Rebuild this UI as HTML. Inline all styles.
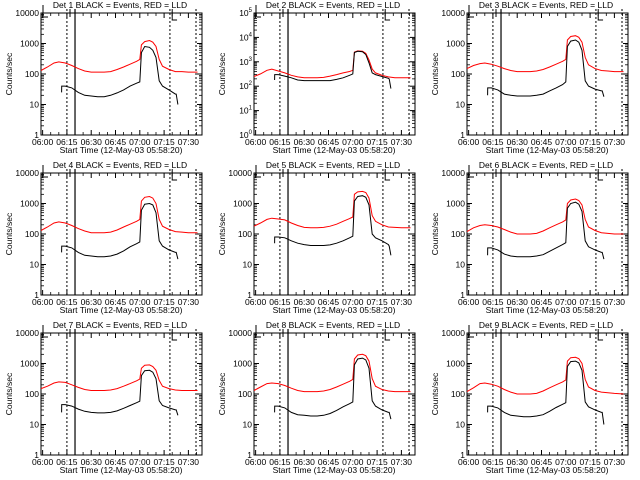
<!DOCTYPE html>
<html><head><meta charset="utf-8"><style>
html,body{margin:0;padding:0;background:#fff}
svg{display:block}
text{font-family:"Liberation Sans",sans-serif;font-size:8.5px;fill:#000}
</style></head><body>
<svg id="chart" width="640" height="480" viewBox="0 0 640 480" xmlns="http://www.w3.org/2000/svg"></svg>
<script>
const redTimes=[-1,3,7,10,14,18,22,26,30,34,38,42,46,50,54,58,60,61,63,66,68,70,72,74,78,82,86,90,95.6];
const blackTimes=[11.7,11.8,14,18,22,26,30,34,38,42,46,50,54,58,60,61,63,66,68,70,72,74,78,82,82.5,83.5];
const xTickLabels=["06:00","06:15","06:30","06:45","07:00","07:15","07:30"];
const xTickMinutes=[0,15,30,45,60,75,90];
const detNames=["Det 1","Det 2","Det 3","Det 4","Det 5","Det 6","Det 7","Det 8","Det 9"];
const red1=[130,170,230,250,230,190,150,125,115,115,115,120,140,170,210,260,300,900,1150,1250,1100,800,300,180,140,120,120,115,115];
const black1=[25,40,40,35,25,20,19,18,18,20,24,30,40,50,55,500,800,750,600,350,60,40,30,22,22,10];
const red2=[250,320,450,500,420,350,280,240,220,220,220,230,260,300,350,400,450,2500,2800,2700,2200,1200,500,350,280,240,220,220,220];
const black2=[180,300,300,260,220,180,170,170,170,170,170,190,220,280,320,2400,2700,2600,2000,900,350,300,250,210,200,80];
const red3=[150,190,220,230,210,180,150,130,120,120,120,125,140,170,210,260,300,1300,1700,1800,1600,1100,350,200,150,130,125,120,120];
const black3=[20,35,35,30,22,20,19,19,19,20,22,28,35,45,55,800,1200,1300,1100,600,60,40,32,28,28,18];
const red4=[130,170,230,250,230,190,150,125,110,110,110,115,135,170,210,260,300,1200,1600,1700,1500,1000,300,180,140,120,115,110,110];
const black4=[25,40,40,35,25,20,19,18,18,19,22,28,38,48,55,600,950,1000,900,500,60,40,30,25,25,15];
const red5=[180,230,300,330,310,290,230,190,165,160,160,165,180,210,260,320,360,2000,2400,2500,2300,1500,400,260,200,170,165,160,160];
const black5=[50,80,80,75,60,50,45,42,42,42,44,50,60,75,85,1200,1700,1800,1600,900,100,75,60,45,40,20];
const red6=[120,160,190,200,190,170,140,115,100,100,100,105,125,160,200,250,290,1000,1300,1400,1250,900,300,170,130,110,105,100,100];
const black6=[20,35,35,30,22,19,18,18,18,19,21,27,35,45,52,700,1000,1100,950,550,60,38,30,25,25,15];
const red7=[150,180,230,250,240,200,165,140,130,130,130,135,150,180,220,270,310,700,880,900,800,600,280,180,150,135,130,130,130];
const black7=[25,45,45,40,32,27,25,24,24,25,28,34,42,52,58,400,580,600,520,320,60,42,35,30,30,20];
const red8=[130,170,220,230,220,190,155,130,120,120,120,125,140,170,210,260,300,1400,1900,2000,1800,1200,320,180,140,125,120,120,120];
const black8=[25,40,40,35,25,21,20,19,19,20,23,29,38,48,55,900,1400,1500,1300,700,60,40,30,25,25,15];
const red9=[120,160,220,230,210,180,140,115,100,100,100,105,125,160,200,250,290,1200,1550,1600,1450,1000,300,170,130,115,110,105,100];
const black9=[25,40,40,35,25,20,19,18,18,19,21,27,36,46,52,800,1150,1200,1050,600,55,38,30,25,25,10];
const redSeries=[red1,red2,red3,red4,red5,red6,red7,red8,red9];
const blackSeries=[black1,black2,black3,black4,black5,black6,black7,black8,black9];

const NS="http://www.w3.org/2000/svg";
const svg=document.getElementById('chart');
function mk(tag,attrs,parent){const e=document.createElementNS(NS,tag);for(const k in attrs)e.setAttribute(k,attrs[k]);(parent||svg).appendChild(e);return e;}
const TMIN=-1,TMAX=98.4;
for(let p=0;p<9;p++){
  const ox=(p%3)*213, oy=Math.floor(p/3)*160;
  const L=ox+41,R=ox+202,T=oy+13,B=oy+135;
  const sup = (p===1);
  const lmin=0,lmax=sup?5:4;
  const g=mk('g',{});
  
  
  const xs=t=>L+(t-TMIN)/(TMAX-TMIN)*(R-L);
  const ys=v=>B-(Math.log10(v)-lmin)/(lmax-lmin)*(B-T);
  const fr=mk('rect',{x:L,y:T,width:R-L,height:B-T,fill:'none',stroke:'#000','stroke-width':1},g);
  
  
  // y ticks
  for(let d=lmin;d<=lmax;d++){
    const y=ys(Math.pow(10,d));
    mk('line',{x1:L,x2:L+5,y1:y,y2:y,stroke:'#000'},g);
    mk('line',{x1:R,x2:R-5,y1:y,y2:y,stroke:'#000'},g);
    const tx=mk('text',{x:L-2,y:y+3,'text-anchor':'end'},g);
    
    
    if(sup){tx.textContent='10';const ts=mk('tspan',{dy:-4,'font-size':'6px'},tx);ts.textContent=String(d);}
    else tx.textContent=String(Math.pow(10,d));
    if(d<lmax)for(let m=2;m<=9;m++){const ym=ys(m*Math.pow(10,d));
      mk('line',{x1:L,x2:L+3,y1:ym,y2:ym,stroke:'#000','stroke-width':0.8},g);
      mk('line',{x1:R,x2:R-3,y1:ym,y2:ym,stroke:'#000','stroke-width':0.8},g);}
  }
  xTickMinutes.forEach((m,i)=>{
    const x=xs(m);
    mk('line',{x1:x,x2:x,y1:B,y2:B-5,stroke:'#000'},g);
    mk('line',{x1:x,x2:x,y1:T,y2:T+5,stroke:'#000'},g);
    const tx=mk('text',{x:x,y:B+10,'text-anchor':'middle'},g);
    
    
    tx.textContent=xTickLabels[i];
  });
  for(let m=5;m<=95;m+=5){if(m%15===0)continue;const x=xs(m);
    mk('line',{x1:x,x2:x,y1:B,y2:B-3,stroke:'#000','stroke-width':0.8},g);
    mk('line',{x1:x,x2:x,y1:T,y2:T+3,stroke:'#000','stroke-width':0.8},g);}
  // markers
  [[15,'2,2'],[78.6,'2,2'],[94.7,'2,2']].forEach(([t,da])=>{
    const ln=mk('line',{x1:xs(t),x2:xs(t),y1:oy+5,y2:B,stroke:'#000','stroke-dasharray':da},g);
    
  });
  const sl=mk('line',{x1:xs(20),x2:xs(20),y1:oy+5,y2:B,stroke:'#000','stroke-width':1.2},g);
  
  mk('line',{x1:xs(16.9),x2:xs(16.9),y1:oy+5,y2:oy+17,stroke:'#000'},g);
  mk('path',{d:`M${L+3} ${oy+17}H${L+7}M${L+2} ${oy+5}V${oy+17}`,stroke:'#000',fill:'none'},g);
  mk('path',{d:`M${xs(80)} ${oy+5}V${oy+20}H${xs(83)}`,stroke:'#000',fill:'none'},g);
  // series
  const rp=redSeries[p].map((v,i)=>(i?'L':'M')+xs(redTimes[i]).toFixed(1)+' '+ys(v).toFixed(1)).join('');
  const rl=mk('path',{d:rp,stroke:'#ff0000',fill:'none','stroke-width':1},g);
  
  const bp=blackSeries[p].map((v,i)=>(i?'L':'M')+xs(blackTimes[i]).toFixed(1)+' '+ys(v).toFixed(1)).join('');
  const bl=mk('path',{d:bp,stroke:'#000',fill:'none','stroke-width':1},g);
  
  // titles
  const tt=mk('rect',{x:L+6,y:oy,width:150,height:9,fill:'#fff'},g);
  const ti=mk('text',{x:ox+120,y:oy+8,'text-anchor':'middle','font-size':'9px'},g);
  
  ti.textContent=detNames[p]+' BLACK = Events, RED = LLD';
  const xt=mk('text',{x:ox+121,y:B+18,'text-anchor':'middle','font-size':'9px'},g);
  
  xt.textContent='Start Time (12-May-03 05:58:20)';
  const yt=mk('text',{x:0,y:0,'text-anchor':'middle','font-size':'8px',transform:`translate(${ox+12},${oy+74}) rotate(-90)`},g);
  
  yt.textContent='Counts/sec';
}
</script>
</body></html>
